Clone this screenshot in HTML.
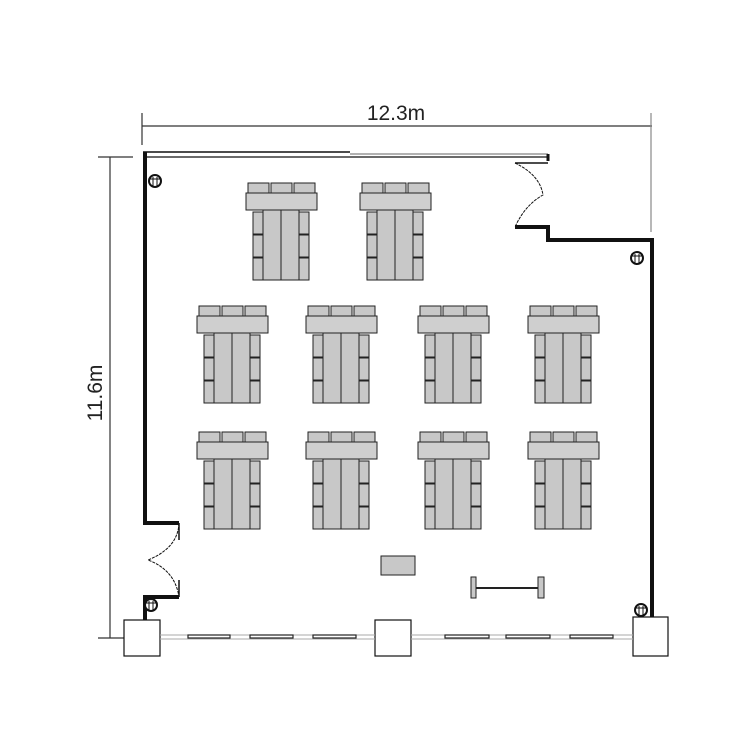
<!DOCTYPE html>
<html><head><meta charset="utf-8"><style>html,body{margin:0;padding:0;background:#fff}</style></head>
<body>
<svg width="750" height="750" viewBox="0 0 750 750" xmlns="http://www.w3.org/2000/svg">
<defs>
<g id="grp" stroke="#222" stroke-width="1" fill="#c8c8c8">
  <rect x="2" y="-10" width="21" height="10"/><rect x="25" y="-10" width="21" height="10"/><rect x="48" y="-10" width="21" height="10"/>
  <rect x="7" y="19" width="10" height="22"/><rect x="7" y="42" width="10" height="22"/><rect x="7" y="65" width="10" height="22"/>
  <rect x="53" y="19" width="10" height="22"/><rect x="53" y="42" width="10" height="22"/><rect x="53" y="65" width="10" height="22"/>
  <rect x="0" y="0" width="71" height="17" fill="#cfcfcf"/>
  <rect x="17" y="17" width="18" height="70"/><rect x="35" y="17" width="18" height="70"/>
</g>
<g id="col" stroke="#111" fill="#fff">
  <circle r="6" stroke-width="2"/><line x1="-2" y1="-4" x2="-2" y2="5"/><line x1="2" y1="-4" x2="2" y2="5"/><line x1="-6" y1="-2" x2="6" y2="-2"/>
</g>
</defs>
<g stroke="#333" stroke-width="1.2" fill="none">
  <line x1="142" y1="126" x2="652" y2="126"/>
  <line x1="142" y1="113" x2="142" y2="145"/>
  <line x1="651" y1="113" x2="651" y2="232" stroke="#888"/>
  <line x1="110" y1="157" x2="110" y2="638"/>
  <line x1="98" y1="157" x2="133" y2="157"/>
  <line x1="98" y1="638" x2="125" y2="638"/>
</g>
<text x="396" y="120" font-family="Liberation Sans, sans-serif" font-size="21" text-anchor="middle" fill="#222">12.3m</text>
<text x="0" y="0" transform="translate(102,393) rotate(-90)" font-family="Liberation Sans, sans-serif" font-size="21" text-anchor="middle" fill="#222">11.6m</text>
<g stroke="#111" fill="none">
  <line x1="143" y1="152" x2="350" y2="152" stroke-width="1.5"/>
  <line x1="350" y1="154" x2="548" y2="154" stroke="#999" stroke-width="1.5"/>
  <line x1="143" y1="157" x2="548" y2="157" stroke-width="1.2"/>
  <line x1="548" y1="154" x2="548" y2="161" stroke-width="3"/>
  <polyline points="145,152 145,523 179,523" stroke-width="4"/>
  <line x1="515" y1="163" x2="548" y2="163" stroke-width="1.5"/>
  <polyline points="515,227 548,227 548,240 652,240 652,617" stroke-width="4"/>
  <polyline points="179,597 145,597 145,620" stroke-width="4"/>
  <path d="M515,163 Q540,175 543,195 Q525,205 515,227" stroke-width="1" stroke-dasharray="3,1"/>
  <path d="M179,523 Q178,548 148,560 Q175,570 179,597" stroke-width="1" stroke-dasharray="3,1"/>
  <line x1="179" y1="523" x2="179" y2="540" stroke-width="1.5"/>
  <line x1="179" y1="580" x2="179" y2="597" stroke-width="1.5"/>
  <rect x="124" y="620" width="36" height="36" stroke-width="1.2" fill="#fff"/>
  <rect x="375" y="620" width="36" height="36" stroke-width="1.2" fill="#fff"/>
  <rect x="633" y="617" width="35" height="39" stroke-width="1.2" fill="#fff"/>
  <line x1="160" y1="635" x2="375" y2="635" stroke="#aaa"/>
  <line x1="160" y1="639" x2="375" y2="639" stroke="#aaa"/>
  <line x1="411" y1="635" x2="633" y2="635" stroke="#aaa"/>
  <line x1="411" y1="639" x2="633" y2="639" stroke="#aaa"/>
  <g stroke="#222" stroke-width="1.2" fill="#fff">
    <rect x="188" y="635" width="42" height="3"/><rect x="250" y="635" width="43" height="3"/><rect x="313" y="635" width="43" height="3"/>
    <rect x="445" y="635" width="44" height="3"/><rect x="506" y="635" width="44" height="3"/><rect x="570" y="635" width="43" height="3"/>
  </g>
</g>
<use href="#col" x="155" y="181"/>
<use href="#col" x="637" y="258"/>
<use href="#col" x="151" y="605"/>
<use href="#col" x="641" y="610"/>
<use href="#grp" x="246" y="193"/>
<use href="#grp" x="360" y="193"/>
<use href="#grp" x="197" y="316"/>
<use href="#grp" x="306" y="316"/>
<use href="#grp" x="418" y="316"/>
<use href="#grp" x="528" y="316"/>
<use href="#grp" x="197" y="442"/>
<use href="#grp" x="306" y="442"/>
<use href="#grp" x="418" y="442"/>
<use href="#grp" x="528" y="442"/>
<rect x="381" y="556" width="34" height="19" fill="#c8c8c8" stroke="#222"/>
<g stroke="#222" fill="#c8c8c8">
  <line x1="474" y1="588" x2="541" y2="588" stroke-width="2"/>
  <rect x="471" y="577" width="5" height="21"/>
  <rect x="538" y="577" width="6" height="21"/>
</g>
</svg>
</body></html>
